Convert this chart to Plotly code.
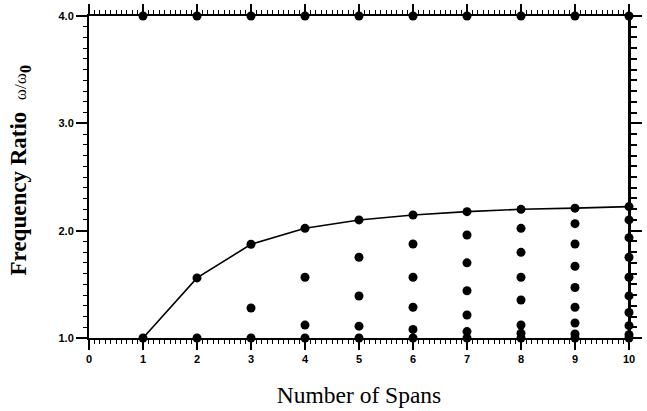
import plotly.graph_objects as go

# Natural frequency ratios (omega / omega_0) of the first band, per number of spans
spans = [1, 2, 3, 4, 5, 6, 7, 8, 9, 10]
modes_1 = [1.0]
modes_2 = [1.0, 1.56]
modes_3 = [1.0, 1.28, 1.873]
modes_4 = [1.0, 1.12, 1.566, 2.022]
modes_5 = [1.0, 1.11, 1.391, 1.752, 2.10]
modes_6 = [1.0, 1.08, 1.286, 1.566, 1.876, 2.146]
modes_7 = [1.0, 1.06, 1.214, 1.44, 1.70, 1.96, 2.177]
modes_8 = [1.0, 1.044, 1.121, 1.354, 1.566, 1.798, 2.022, 2.199]
modes_9 = [1.0, 1.037, 1.14, 1.286, 1.47, 1.668, 1.876, 2.065, 2.21]
modes_10 = [1.0, 1.03, 1.115, 1.238, 1.392, 1.566, 1.752, 1.935, 2.10, 2.224]
# First frequency of the second band
second_band = [4.0, 4.0, 4.0, 4.0, 4.0, 4.0, 4.0, 4.0, 4.0, 4.0]

x_ticks = [0, 1, 2, 3, 4, 5, 6, 7, 8, 9, 10]
y_ticks = [1.0, 2.0, 3.0, 4.0]
y_tick_text = ["1.0", "2.0", "3.0", "4.0"]

all_modes = [modes_1, modes_2, modes_3, modes_4, modes_5,
             modes_6, modes_7, modes_8, modes_9, modes_10]

pts_x, pts_y = [], []
for n, freqs in zip(spans, all_modes):
    pts_x += [n] * len(freqs)
    pts_y += freqs
pts_x += spans
pts_y += second_band

band_edge = [max(f) for f in all_modes]

fig = go.Figure()
fig.add_trace(go.Scatter(
    x=spans, y=band_edge, mode="lines",
    line=dict(color="black", width=1.6),
    cliponaxis=False, hoverinfo="skip",
))
fig.add_trace(go.Scatter(
    x=pts_x, y=pts_y, mode="markers",
    marker=dict(color="black", size=9, line=dict(width=0)),
    cliponaxis=False,
))
# invisible trace that carries the right-hand fine-tick axis
fig.add_trace(go.Scatter(x=[0], y=[1], yaxis="y2", mode="markers",
                         marker=dict(opacity=0), hoverinfo="skip"))

tick_font = dict(family="Liberation Sans, Arial", size=11, color="black", weight="bold")
serif = "Liberation Serif, Times New Roman"

fig.update_layout(
    width=647, height=411,
    margin=dict(l=89, r=18, t=16, b=73),
    paper_bgcolor="white", plot_bgcolor="white",
    showlegend=False,
    xaxis=dict(
        range=[0, 10], tickvals=x_ticks, automargin=False,
        showgrid=False, zeroline=False,
        showline=True, linecolor="black", linewidth=2,
        mirror="ticks", ticks="outside", ticklen=10, tickwidth=1.5, tickcolor="black",
        minor=dict(dtick=0.1, ticks="outside", ticklen=4, tickwidth=1, tickcolor="black"),
        tickfont=tick_font,
        title=dict(text="Number of Spans", standoff=22,
                   font=dict(family=serif, size=23.5, color="black")),
    ),
    yaxis=dict(
        range=[1, 4], tickvals=y_ticks, ticktext=y_tick_text, automargin=False,
        showgrid=False, zeroline=False,
        showline=True, linecolor="black", linewidth=2,
        mirror="ticks", ticks="outside", ticklen=11, tickwidth=1.5, tickcolor="black",
        minor=dict(dtick=0.1, ticks="outside", ticklen=4, tickwidth=1, tickcolor="black"),
        tickfont=tick_font,
    ),
    # fine ticks every 0.1 along the right-hand edge
    yaxis2=dict(
        range=[1, 4], overlaying="y", side="right", anchor="free", position=1.0,
        automargin=False, showgrid=False, zeroline=False, showticklabels=False,
        showline=True, linecolor="black", linewidth=2,
        tick0=1, dtick=0.1, ticks="outside", ticklen=7, tickwidth=1.5, tickcolor="black",
    ),
    annotations=[dict(
        text="<b>Frequency Ratio</b>  <span style='font-size:17px'>ω/ω</span><sub><b>0</b></sub>",
        xref="paper", yref="paper", x=-0.128, y=0.52,
        xanchor="center", yanchor="middle", textangle=-90, showarrow=False,
        font=dict(family=serif, size=23, color="black"),
    )],
)

fig.write_html("out.html")
